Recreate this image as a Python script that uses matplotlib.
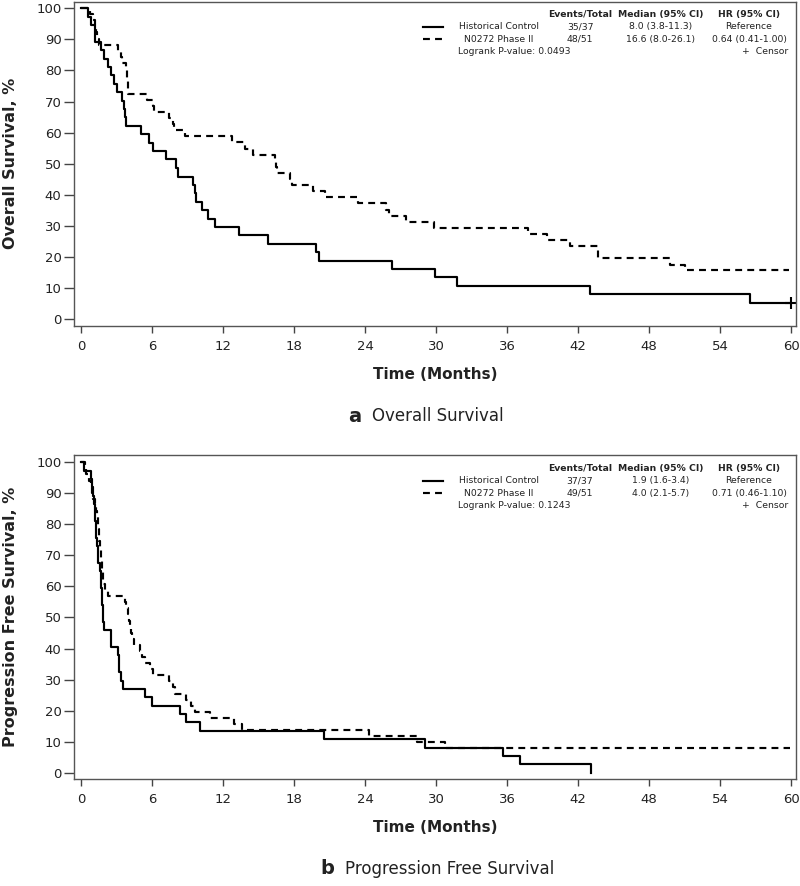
import matplotlib
matplotlib.use("Agg")
import matplotlib.pyplot as plt
from matplotlib.lines import Line2D

W, H = 800, 886

# ── Data ──
os_hc_t = [0, 0.6, 0.85, 1.2, 1.65, 1.95, 2.25, 2.5, 2.8, 3.05, 3.5, 3.6, 3.7, 3.8,
           5.1, 5.75, 6.1, 7.15, 8.0, 8.2, 9.45, 9.6, 9.75, 10.2, 10.7, 11.3, 13.35,
           15.8, 19.9, 20.15, 26.3, 29.9, 31.8, 43.0, 56.55, 60.0]
os_hc_s = [100, 97.3, 94.6, 89.2, 86.5, 83.8, 81.1, 78.4, 75.7, 73.0, 70.3, 67.6, 64.9, 62.2,
           59.5, 56.8, 54.1, 51.4, 48.6, 45.9, 43.2, 40.5, 37.8, 35.1, 32.4, 29.7, 27.0,
           24.3, 21.6, 18.9, 16.2, 13.5, 10.8, 8.1, 5.4, 5.4]

os_ph2_t = [0, 0.75, 1.05, 1.15, 1.25, 1.35, 1.5, 3.1, 3.4, 3.5, 3.8, 3.85, 3.9, 3.95, 4.0,
            5.55, 6.1, 6.2, 7.4, 7.8, 7.9, 8.8, 12.8, 13.9, 14.5, 16.4, 16.5, 16.6, 17.7,
            17.8, 19.6, 20.6, 23.4, 25.8, 26.0, 27.5, 29.8, 37.8, 39.4, 41.3, 43.65, 43.7,
            49.8, 51.05, 59.8]
os_ph2_s = [100, 98.0, 96.1, 94.1, 92.2, 90.2, 88.2, 86.3, 84.3, 82.4, 80.4, 78.4, 76.5, 74.5, 72.5,
            70.6, 68.6, 66.7, 64.7, 62.7, 60.8, 58.8, 56.9, 54.9, 52.9, 51.0, 49.0, 47.1, 45.1,
            43.1, 41.2, 39.2, 37.3, 35.3, 33.3, 31.4, 29.4, 27.5, 25.5, 23.5, 21.6, 19.6,
            17.6, 15.7, 15.7]

pfs_hc_t = [0, 0.25, 0.85, 0.95, 1.0, 1.1, 1.15, 1.2, 1.25, 1.3, 1.35, 1.4, 1.45, 1.6, 1.65,
            1.7, 1.75, 1.8, 1.85, 1.9, 1.95, 2.5, 2.55, 3.15, 3.2, 3.25, 3.4, 3.55, 5.45, 6.0,
            8.35, 8.85, 10.05, 20.55, 29.05, 35.7, 37.1, 43.1]
pfs_hc_s = [100, 97.3, 94.6, 91.9, 89.2, 86.5, 83.8, 81.1, 78.4, 75.7, 73.0, 70.3, 67.6, 64.9, 62.2,
            59.5, 56.8, 54.1, 51.4, 48.6, 45.9, 43.2, 40.5, 37.8, 35.1, 32.4, 29.7, 27.0, 24.3, 21.6,
            18.9, 16.2, 13.5, 10.8, 8.1, 5.4, 2.7, 0.0]

pfs_ph2_t = [0, 0.35, 0.4, 0.7, 0.85, 0.95, 1.05, 1.2, 1.3, 1.35, 1.4, 1.45, 1.5, 1.55, 1.6, 1.65,
             1.7, 1.75, 1.8, 1.85, 1.9, 2.0, 2.25, 3.7, 3.8, 3.95, 4.05, 4.15, 4.25, 4.35, 4.45,
             5.0, 5.15, 5.4, 5.8, 6.05, 7.4, 7.75, 7.95, 8.9, 9.3, 9.6, 10.9, 12.9, 13.6, 24.3,
             28.4, 30.8, 59.9]
pfs_ph2_s = [100, 98.0, 96.1, 94.1, 92.2, 90.2, 88.2, 86.3, 84.3, 82.4, 80.4, 78.4, 76.5, 74.5, 72.5,
             70.6, 68.6, 66.7, 64.7, 62.7, 60.8, 58.8, 56.9, 54.9, 52.9, 51.0, 49.0, 47.1, 45.1, 43.1,
             41.2, 39.2, 37.3, 35.3, 33.3, 31.4, 29.4, 27.5, 25.5, 23.5, 21.6, 19.6, 17.6, 15.7, 13.7,
             11.8, 9.8, 7.8, 7.8]

os_censor_t, os_censor_s = [60.0], [5.4]

GROUPS = ["Historical Control", "N0272 Phase II"]
HEADERS = ["Events/Total", "Median (95% CI)", "HR (95% CI)"]
OS_TABLE = [["35/37", "8.0 (3.8-11.3)", "Reference"],
            ["48/51", "16.6 (8.0-26.1)", "0.64 (0.41-1.00)"]]
PFS_TABLE = [["37/37", "1.9 (1.6-3.4)", "Reference"],
             ["49/51", "4.0 (2.1-5.7)", "0.71 (0.46-1.10)"]]
OS_P = "Logrank P-value: 0.0493"
PFS_P = "Logrank P-value: 0.1243"

XTICKS = list(range(0, 61, 6))
YTICKS = list(range(0, 101, 10))

plt.rcParams["font.family"] = ["DejaVu Sans"]
TXT = "#222222"
LW = 1.55
DASH = (3.2, 2.4)

fig = plt.figure(figsize=(W / 100, H / 100), dpi=100)


def fx(px):
    return px / W


def fy(py):
    return 1 - py / H


def panel(top_px, bot_px, ylo, yhi, ylabel):
    ax = fig.add_axes([fx(74), fy(bot_px), fx(796) - fx(74), (bot_px - top_px) / H])
    ax.set_xlim(-0.59, 60.42)
    ax.set_ylim(ylo, yhi)
    ax.set_xticks(XTICKS)
    ax.set_yticks(YTICKS)
    ax.tick_params(axis="x", length=5, width=1, color="#444", labelsize=9.5, labelcolor=TXT, pad=5)
    ax.tick_params(axis="y", length=7, width=1, color="#444", labelsize=9.5, labelcolor=TXT, pad=2)
    for s in ax.spines.values():
        s.set_color("#555")
        s.set_linewidth(1.0)
    ax.set_ylabel(ylabel, fontsize=11.5, fontweight="bold", color=TXT, labelpad=13)
    ax.set_xlabel("Time (Months)", fontsize=11, fontweight="bold", color=TXT, labelpad=10)
    return ax


def stats_block(y0, table, ptext):
    # header + two rows + p-value line, in pixel positions of the reference
    cols = [580, 661, 749]
    for cx, h in zip(cols, HEADERS):
        fig.text(fx(cx), fy(y0), h, ha="center", va="center", fontsize=6.7,
                 fontweight="bold", color=TXT)
    for r, (grp, row) in enumerate(zip(GROUPS, table)):
        yy = y0 + 12.5 * (r + 1)
        ls = "-" if r == 0 else (0, DASH)
        fig.add_artist(Line2D([fx(423), fx(443)], [fy(yy), fy(yy)], color="black",
                              lw=LW, linestyle=ls, transform=fig.transFigure))
        fig.text(fx(499), fy(yy), grp, ha="center", va="center", fontsize=6.7, color=TXT)
        for cx, v in zip(cols, row):
            fig.text(fx(cx), fy(yy), v, ha="center", va="center", fontsize=6.7, color=TXT)
    yy = y0 + 12.5 * 3
    fig.text(fx(458), fy(yy), ptext, ha="left", va="center", fontsize=6.7, color=TXT)
    fig.text(fx(788), fy(yy), "+  Censor", ha="right", va="center", fontsize=6.7, color=TXT)


# ── Panel a: Overall Survival ──
ax1 = panel(1.7, 326, -2.15, 102.1, "Overall Survival, %")
ax1.step(os_hc_t, os_hc_s, where="post", color="black", lw=LW)
ax1.step(os_ph2_t, os_ph2_s, where="post", color="black", lw=LW, linestyle=(0, DASH))
ax1.plot(os_censor_t, os_censor_s, marker="+", color="black", ms=8, mew=1.5, ls="none",
         clip_on=False)
stats_block(14.3, OS_TABLE, OS_P)
fig.text(fx(361), fy(416), "a", ha="right", va="center", fontsize=14, fontweight="bold", color=TXT)
fig.text(fx(372), fy(416), "Overall Survival", ha="left", va="center", fontsize=12, color=TXT)

# ── Panel b: Progression Free Survival ──
ax2 = panel(455, 779, -2.03, 102.35, "Progression Free Survival, %")
ax2.step(pfs_hc_t, pfs_hc_s, where="post", color="black", lw=LW)
ax2.step(pfs_ph2_t, pfs_ph2_s, where="post", color="black", lw=LW, linestyle=(0, DASH))
stats_block(468.3, PFS_TABLE, PFS_P)
fig.text(fx(334), fy(869), "b", ha="right", va="center", fontsize=14, fontweight="bold", color=TXT)
fig.text(fx(345), fy(869), "Progression Free Survival", ha="left", va="center", fontsize=12,
         color=TXT)

fig.savefig("out.png", dpi=100)
